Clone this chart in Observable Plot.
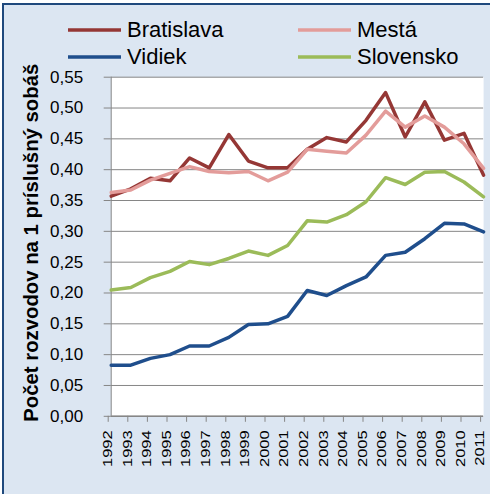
<!DOCTYPE html>
<html><head><meta charset="utf-8">
<script src="https://cdn.jsdelivr.net/npm/d3@7"></script>
<script src="https://cdn.jsdelivr.net/npm/@observablehq/plot@0.6"></script>
<style>
body{margin:0;background:#fff;}
#wrap{position:relative;width:490px;height:494px;overflow:hidden;background:#fff;font-family:"Liberation Sans",Arial,sans-serif;}
#bg{position:absolute;left:2px;top:3px;right:-5px;bottom:-5px;background:#DCE6F2;border-top:2px solid #1F497D;border-left:2px solid #1F497D;}
#plot{position:absolute;left:0;top:0;}
#legend{position:absolute;left:0;top:0;}
</style></head><body>
<div id="wrap"><div id="bg"></div><div id="plot"></div><div id="legend"></div></div>
<script>
const years = [1992,1993,1994,1995,1996,1997,1998,1999,2000,2001,2002,2003,2004,2005,2006,2007,2008,2009,2010,2011];
const seriesNames = ["Bratislava","Mestá","Vidiek","Slovensko"];
const bratislava = [0.357,0.369,0.386,0.382,0.419,0.403,0.457,0.414,0.403,0.403,0.433,0.452,0.445,0.480,0.525,0.453,0.510,0.448,0.459,0.391];
const mesta      = [0.363,0.367,0.383,0.394,0.405,0.397,0.395,0.397,0.382,0.396,0.433,0.430,0.427,0.456,0.495,0.469,0.487,0.469,0.442,0.402];
const vidiek     = [0.083,0.083,0.094,0.100,0.114,0.114,0.128,0.149,0.150,0.162,0.204,0.196,0.212,0.226,0.261,0.266,0.288,0.313,0.312,0.299];
const slovensko  = [0.205,0.209,0.225,0.235,0.251,0.246,0.256,0.268,0.261,0.277,0.317,0.315,0.327,0.348,0.387,0.376,0.396,0.397,0.380,0.356];
const yTicks = [0,0.05,0.10,0.15,0.20,0.25,0.30,0.35,0.40,0.45,0.50,0.55];
const yTitle = "Počet rozvodov na 1 príslušný sobáš";
const colors = ["#953735","#E39C9A","#1F4E8C","#9BBB59"];

const valueLists = [bratislava, mesta, vidiek, slovensko];
const data = [];
seriesNames.forEach((s, k) => years.forEach((y, i) => data.push({series: s, year: y, value: valueLists[k][i]})));
const fmt = d => d.toFixed(2).replace(".", ",");

const chart = Plot.plot({
  width: 490, height: 494,
  marginLeft: 110.7, marginRight: 6.9, marginTop: 76.7, marginBottom: 78.2,
  style: {background: "transparent", fontFamily: "'Liberation Sans', Arial, sans-serif", color: "#000", overflow: "visible"},
  x: {domain: [years[0], years[years.length - 1]]},
  y: {domain: [0, 0.55]},
  color: {domain: seriesNames, range: colors},
  marks: [
    Plot.frame({fill: "white", stroke: "none"}),
    Plot.gridY(yTicks, {stroke: "#868686", strokeOpacity: 1, strokeWidth: 1}),
    Plot.ruleX([years[0]], {stroke: "#868686", strokeWidth: 1}),
    Plot.ruleY([0], {stroke: "#868686", strokeWidth: 1.5}),
    Plot.axisY(yTicks, {tickFormat: fmt, tickSize: 7, tickPadding: 21, fontSize: 17, stroke: "#868686", label: null}),
    Plot.axisX(years, {tickFormat: d => String(d), tickSize: 6, tickRotate: -90, tickPadding: 8, fontSize: 16.5, stroke: "#868686", label: null, dx: -3}),
    Plot.line(data, {x: "year", y: "value", stroke: "series", z: "series", strokeWidth: 3.5}),
    Plot.text([yTitle], {frameAnchor: "left", textAnchor: "middle", rotate: -90, dx: -80, dy: -4, fontSize: 20, fontWeight: "bold", fill: "#000"})
  ]
});
document.getElementById("plot").appendChild(chart);

const svg = d3.select(chart);
svg.selectAll("text").filter(function() { return /^\d{4}$/.test(this.textContent); })
  .each(function() {
    const t = d3.select(this);
    const tr = t.attr("transform") || "";
    t.attr("transform", tr + " scale(1,0.72)");
  });
svg.selectAll("text").filter(function() { return this.textContent === yTitle; })
  .attr("textLength", 358).attr("lengthAdjust", "spacingAndGlyphs");

// legend
const leg = d3.select("#legend").append("svg").attr("width", 490).attr("height", 70)
  .style("font-family", "'Liberation Sans', Arial, sans-serif");
const pos = [[68, 30], [298, 30], [68, 57], [298, 57]];
seriesNames.forEach((s, k) => {
  const [lx, ly] = pos[k];
  leg.append("line").attr("x1", lx).attr("x2", lx + 53).attr("y1", ly).attr("y2", ly)
    .attr("stroke", colors[k]).attr("stroke-width", 3.5);
  leg.append("text").attr("x", lx + 59).attr("y", ly + 7).attr("font-size", 22).attr("fill", "#000").text(s);
});
</script>
</body></html>
